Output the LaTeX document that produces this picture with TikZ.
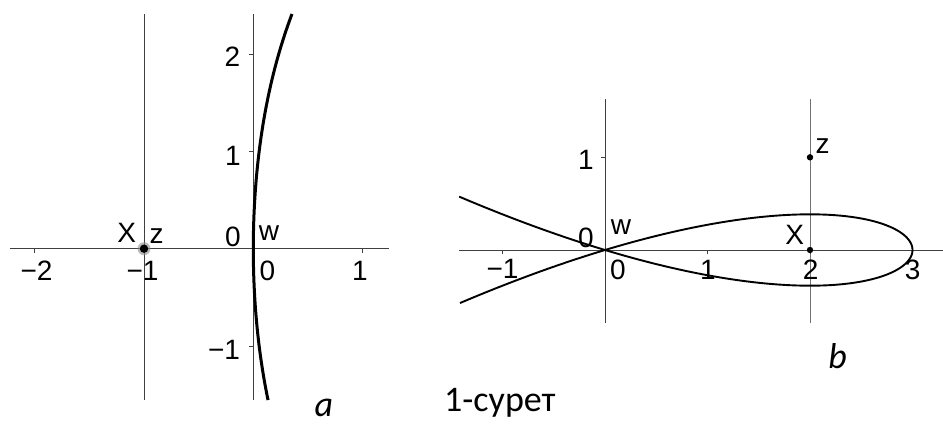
\documentclass[tikz,border=0pt]{standalone}
\usepackage{fontspec}
\setmainfont{Liberation Sans}
\newfontfamily\capfont{Carlito}
\begin{document}
\begin{tikzpicture}[x=1pt,y=1pt,
  axis/.style={draw=black!75, line width=0.8pt},
  guide/.style={draw=black!55, line width=0.8pt},
  tk/.style={draw=black!75, line width=0.8pt},
  lbl/.style={inner sep=0pt, font=\fontsize{28}{28}\selectfont},
  captext/.style={inner sep=0pt, font=\fontsize{36}{36}\selectfont\capfont},
  capit/.style={inner sep=0pt, font=\fontsize{36}{36}\selectfont\capfont\itshape},
  curvea/.style={line width=3pt, black},
  curveb/.style={line width=1.9pt, black}]
\useasboundingbox (0,-424) rectangle (943,0);
% ---------- plot a ----------
\begin{scope}[shift={(253.3pt,-248.7pt)}, x=109.3pt, y=97.2pt]
  \coordinate (aL) at (-2.226,0); \coordinate (aR) at (1.239,0);
  \coordinate (aB) at (0,-1.557); \coordinate (aT) at (0,2.415);
  \coordinate (gB) at (-1,-1.557); \coordinate (gT) at (-1,2.415);
  \draw[axis] (aL) -- (aR);
  \draw[axis] (aB) -- (aT);
  \draw[axis] (gB) -- (gT);
  \foreach \x in {-2,-1,1} \draw[tk] (\x,0) -- ++(0,-4pt);
  \foreach \y in {-1,1,2} \draw[tk] (0,\y) -- ++(-4pt,0);
  \draw[curvea] plot[domain=-1.557:2.415, samples=80, smooth, variable=\t]
    ({0.052*\t*\t+0.0015*\t*\t*\t*\t}, \t);
  \fill[black!45, opacity=0.6] (-1,0) circle[radius=6.5pt];
  \fill[black] (-1,0) circle[radius=4.2pt];
\end{scope}
% ---------- plot b ----------
\begin{scope}[shift={(605pt,-250pt)}, x=102.5pt, y=92.7pt]
  \coordinate (bL) at (-1.424,0); \coordinate (bR) at (3.298,0);
  \coordinate (bB) at (0,-0.787); \coordinate (bT) at (0,1.629);
  \coordinate (hB) at (2,-0.787); \coordinate (hT) at (2,1.629);
  \draw[axis] (bL) -- (bR);
  \draw[axis] (bB) -- (bT);
  \draw[guide] (hB) -- (hT);
  \foreach \x in {-1,1,2,3} \draw[tk] (\x,0) -- ++(0,-4pt);
  \draw[tk] (0,1) -- ++(-4pt,0);
  \draw[curveb] plot[domain=-2.103:2.103, samples=161, smooth, variable=\t]
    ({3-\t*\t}, {\t*(3-\t*\t)/5.196});
  \fill[black] (2,1) circle[radius=3.2pt];
  \fill[black] (2,0) circle[radius=3.2pt];
\end{scope}
% ---------- labels a ----------
\node[lbl] (am2) at (36.5,-270.5) {−2};
\node[lbl] (am1) at (142.5,-271) {−1};
\node[lbl] (ax0) at (267.5,-271) {0};
\node[lbl] (ax1) at (360,-271) {1};
\node[lbl] (ay2) at (232.5,-57) {2};
\node[lbl] (ay1) at (233,-156) {1};
\node[lbl] (ay0) at (233,-237) {0};
\node[lbl] (aym1) at (224,-350) {−1};
\node[lbl] (aX) at (126.7,-233) {X};
\node[lbl] (az) at (156.7,-236) {z};
\node[lbl] (aw) at (269,-233) {w};
\node[capit, anchor=base] (alab) at (324,-416) {a};
% ---------- labels b ----------
\node[lbl] (bxm1) at (502.5,-269) {−1};
\node[lbl] (bx0) at (618,-270) {0};
\node[lbl] (by0) at (586,-238) {0};
\node[lbl] (bw) at (621,-227.5) {w};
\node[lbl] (bx1) at (708,-270) {1};
\node[lbl] (bx2) at (810.7,-270) {2};
\node[lbl] (bx3) at (912.7,-270) {3};
\node[lbl] (by1) at (586,-160) {1};
\node[lbl] (bz) at (822.5,-146) {z};
\node[lbl] (bX) at (794.7,-235) {X};
\node[capit, anchor=base] (blab) at (837.5,-368) {b};
\node[captext, anchor=base west] (caption) at (444,-411) {1-сурет};
\end{tikzpicture}
\end{document}
